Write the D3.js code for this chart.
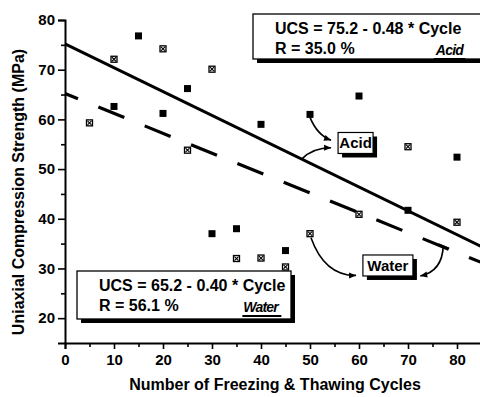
<!DOCTYPE html>
<html>
<head>
<meta charset="utf-8">
<script src="https://cdn.jsdelivr.net/npm/d3@7"></script>
<style>
  body { margin: 0; background: #fff; }
  svg { display: block; font-family: "Liberation Sans", Arial, sans-serif; font-weight: bold; }
</style>
</head>
<body>
<div id="chart"></div>
<script>
// cycles and strengths
var acidCycles = [10, 15, 20, 25, 30, 35, 40, 45, 50, 60, 70, 80];
var acidUCS    = [62.6, 76.8, 61.2, 66.2, 37.0, 38.0, 59.0, 33.6, 61.0, 64.7, 41.7, 52.4];

var waterCycles = [5, 10, 20, 25, 30, 35, 40, 45, 50, 60, 70, 80];
var waterUCS    = [59.3, 72.1, 74.2, 53.8, 70.1, 32.0, 32.1, 30.3, 37.0, 40.9, 54.5, 39.3];

// fitted lines (end points)
var acidFit  = [[0, 75.2], [85, 34.4]];
var waterFit = [[0, 65.2], [85, 31.2]];

var xMajor = [0, 10, 20, 30, 40, 50, 60, 70, 80];
var xMinor = [5, 15, 25, 35, 45, 55, 65, 75];
var yMajor = [20, 30, 40, 50, 60, 70, 80];
var yMinor = [25, 35, 45, 55, 65, 75];

var acidEq  = ["UCS = 75.2 - 0.48 * Cycle", "R = 35.0 %", "Acid"];
var waterEq = ["UCS = 65.2 - 0.40 * Cycle", "R = 56.1 %", "Water"];

var svgWidth = 480, svgHeight = 397;
var margin = { top: 20, right: 0, bottom: 54, left: 65 };

var svg = d3.select("#chart").append("svg")
  .attr("width", svgWidth)
  .attr("height", svgHeight);

var x = d3.scaleLinear().domain([0, 85]).range([margin.left, margin.left + 85 * 4.9]);
var y = d3.scaleLinear().domain([15, 80]).range([svgHeight - margin.bottom, margin.top]);

// axes
var xAxis = svg.append("g")
  .attr("transform", `translate(0, ${y(15)})`)
  .call(d3.axisBottom(x).tickValues(xMajor).tickSize(6).tickPadding(5).tickFormat(d3.format("d")));
svg.append("g")
  .attr("transform", `translate(0, ${y(15)})`)
  .call(d3.axisBottom(x).tickValues(xMinor).tickSize(4).tickFormat(""))
  .select(".domain").remove();

var yAxis = svg.append("g")
  .attr("transform", `translate(${x(0)}, 0)`)
  .call(d3.axisLeft(y).tickValues(yMajor).tickSize(7).tickPadding(3).tickFormat(d3.format("d")));
svg.append("g")
  .attr("transform", `translate(${x(0)}, 0)`)
  .call(d3.axisLeft(y).tickValues(yMinor).tickSize(4).tickFormat(""))
  .select(".domain").remove();

svg.selectAll(".domain").attr("stroke", "#000").attr("stroke-width", 2);
svg.selectAll(".tick line").attr("stroke", "#000").attr("stroke-width", 1.6);
svg.selectAll(".tick text")
  .attr("fill", "#000")
  .attr("font-size", "15px")
  .attr("font-weight", "bold")
  .attr("font-family", "'Liberation Sans', Arial, sans-serif");

// axis titles
svg.append("text")
  .attr("x", 275)
  .attr("y", 390)
  .attr("text-anchor", "middle")
  .attr("font-size", "16px")
  .text("Number of Freezing & Thawing Cycles");

svg.append("text")
  .attr("transform", "translate(24, 192) rotate(-90)")
  .attr("text-anchor", "middle")
  .attr("font-size", "16px")
  .text("Uniaxial Compression Strength (MPa)");

// fitted lines
var line = d3.line().x(d => x(d[0])).y(d => y(d[1]));

svg.append("path")
  .datum(acidFit)
  .attr("d", line)
  .attr("fill", "none")
  .attr("stroke", "#000")
  .attr("stroke-width", 3);

svg.append("path")
  .datum(waterFit)
  .attr("d", line)
  .attr("fill", "none")
  .attr("stroke", "#000")
  .attr("stroke-width", 3.2)
  .attr("stroke-dasharray", "28,22")
  .attr("stroke-dashoffset", 14);

// points
var acidData = acidCycles.map((c, i) => ({ c: c, v: acidUCS[i] }));
var waterData = waterCycles.map((c, i) => ({ c: c, v: waterUCS[i] }));
var s = 7;

svg.append("g").selectAll("rect")
  .data(acidData)
  .enter()
  .append("rect")
  .attr("x", d => x(d.c) - s / 2)
  .attr("y", d => y(d.v) - s / 2)
  .attr("width", s)
  .attr("height", s)
  .attr("fill", "#000");

var wg = svg.append("g").selectAll("g")
  .data(waterData)
  .enter()
  .append("g")
  .attr("transform", d => `translate(${x(d.c)}, ${y(d.v)})`);
wg.append("rect")
  .attr("x", -s / 2 + 0.5)
  .attr("y", -s / 2 + 0.5)
  .attr("width", s - 1)
  .attr("height", s - 1)
  .attr("fill", "#fff")
  .attr("stroke", "#000")
  .attr("stroke-width", 1.3);
wg.append("path")
  .attr("d", "M-2,-2L2,2M2,-2L-2,2")
  .attr("stroke", "#000")
  .attr("stroke-width", 1.1);

// equation boxes
function eqBox(x0, y0, w, h, lines, labelRight) {
  var g = svg.append("g");
  g.append("rect")
    .attr("x", x0 + 4).attr("y", y0 + 4)
    .attr("width", w).attr("height", h)
    .attr("fill", "#000");
  g.append("rect")
    .attr("x", x0).attr("y", y0)
    .attr("width", w).attr("height", h)
    .attr("fill", "#fff")
    .attr("stroke", "#000")
    .attr("stroke-width", 1.3);
  g.append("text")
    .attr("x", x0 + 22).attr("y", y0 + 20)
    .attr("font-size", "16px")
    .text(lines[0]);
  g.append("text")
    .attr("x", x0 + 22).attr("y", y0 + 40)
    .attr("font-size", "16px")
    .text(lines[1]);
  var lab = g.append("text")
    .attr("x", labelRight).attr("y", y0 + 41)
    .attr("text-anchor", "end")
    .attr("font-size", "14px")
    .attr("font-style", "italic")
    .attr("letter-spacing", "-0.8px")
    .text(lines[2]);
  var bb = lab.node().getBBox();
  g.append("line")
    .attr("x1", bb.x - 1).attr("x2", bb.x + bb.width + 1)
    .attr("y1", y0 + 45).attr("y2", y0 + 45)
    .attr("stroke", "#000")
    .attr("stroke-width", 2);
}

eqBox(253, 14, 240, 45, acidEq, 463);
eqBox(77, 271, 214, 48, waterEq, 278);

// callout labels
function callout(cx, cy, w, h, label) {
  var g = svg.append("g");
  g.append("rect")
    .attr("x", cx - w / 2 + 4).attr("y", cy - h / 2 + 4)
    .attr("width", w).attr("height", h)
    .attr("fill", "#000");
  g.append("rect")
    .attr("x", cx - w / 2).attr("y", cy - h / 2)
    .attr("width", w).attr("height", h)
    .attr("fill", "#fff")
    .attr("stroke", "#000")
    .attr("stroke-width", 1.2);
  g.append("text")
    .attr("x", cx).attr("y", cy + 5.5)
    .attr("text-anchor", "middle")
    .attr("font-size", "15px")
    .text(label);
}

function leader(p0, p1, p2, arrow) {
  svg.append("path")
    .attr("d", `M${p0[0]},${p0[1]}Q${p1[0]},${p1[1]} ${p2[0]},${p2[1]}`)
    .attr("fill", "none")
    .attr("stroke", "#000")
    .attr("stroke-width", 1.6);
  if (arrow) {
    var a = Math.atan2(p2[1] - p1[1], p2[0] - p1[0]);
    var L = 7, W = 3;
    var pts = [
      [p2[0], p2[1]],
      [p2[0] - L * Math.cos(a) + W * Math.sin(a), p2[1] - L * Math.sin(a) - W * Math.cos(a)],
      [p2[0] - L * Math.cos(a) - W * Math.sin(a), p2[1] - L * Math.sin(a) + W * Math.cos(a)]
    ];
    svg.append("path")
      .attr("d", "M" + pts.join("L") + "Z")
      .attr("fill", "#000");
  }
}

// Acid callout
leader([x(50), y(61.0) + 3], [x(51.5), y(56.8)], [x(54.3), y(55.8)], true);
leader([x(48.3), y(52.0)], [x(50.5), y(54.3)], [x(54.3), y(54.3)], true);
callout(x(59.3), y(55.25), 35, 21, "Acid");

// Water callout
leader([x(50.2), y(37.0) + 4], [x(53), y(28.5)], [x(59.4), y(28.6)], true);
leader([x(77.2), y(34.6)], [x(77), y(29.4)], [x(72.5), y(28.5)], true);
svg.append("line")
  .attr("x1", x(76.2)).attr("y1", y(34.9))
  .attr("x2", x(78.4)).attr("y2", y(34.0))
  .attr("stroke", "#000").attr("stroke-width", 1.6);
callout(x(65.9), y(30.6), 50, 21, "Water");
</script>
</body>
</html>
